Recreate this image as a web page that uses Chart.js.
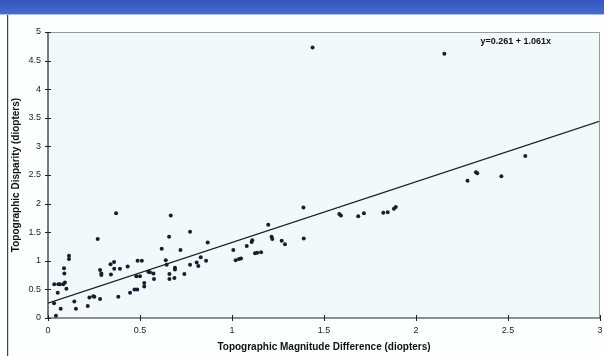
<!DOCTYPE html>
<html>
<head>
<meta charset="utf-8">
<script src="https://cdn.jsdelivr.net/npm/chart.js@4.4.1/dist/chart.umd.min.js"></script>
<style>
html,body{margin:0;padding:0;background:#fff;}
#wrap{width:604px;height:356px;position:relative;}
</style>
</head>
<body>
<div id="wrap"><canvas id="c" width="604" height="356"></canvas></div>
<script>
// Data
const magDiff = [0.043,0.034,0.056,0.033,0.053,0.069,0.065,0.083,0.087,0.089,0.092,0.10,0.114,0.114,0.143,0.152,0.216,0.225,0.246,0.252,0.27,0.283,0.283,0.29,0.29,0.34,0.342,0.359,0.36,0.37,0.382,0.391,0.433,0.446,0.47,0.485,0.487,0.51,0.48,0.50,0.523,0.523,0.545,0.554,0.573,0.576,0.618,0.64,0.645,0.658,0.66,0.66,0.667,0.69,0.69,0.687,0.72,0.741,0.772,0.772,0.808,0.817,0.83,0.859,0.868,1.007,1.02,1.038,1.049,1.08,1.107,1.11,1.125,1.137,1.158,1.197,1.215,1.219,1.27,1.288,1.388,1.39,1.438,1.583,1.592,1.686,1.717,1.822,1.846,1.88,1.89,2.154,2.28,2.326,2.333,2.464,2.594];
const disparity = [0.04,0.59,0.59,0.26,0.44,0.16,0.59,0.59,0.87,0.78,0.62,0.51,1.09,1.03,0.29,0.16,0.21,0.36,0.38,0.37,1.38,0.33,0.84,0.78,0.75,0.94,0.76,0.98,0.86,1.83,0.37,0.86,0.90,0.44,0.50,0.50,1.00,1.00,0.73,0.73,0.61,0.55,0.81,0.80,0.78,0.68,1.21,1.01,0.93,1.42,0.77,0.68,1.79,0.88,0.85,0.70,1.19,0.77,1.51,0.93,0.97,0.91,1.06,1.00,1.32,1.19,1.01,1.03,1.04,1.26,1.33,1.36,1.13,1.14,1.15,1.63,1.42,1.38,1.35,1.29,1.93,1.39,4.73,1.82,1.79,1.78,1.83,1.84,1.85,1.91,1.94,4.62,2.40,2.55,2.53,2.48,2.83];
const fitX = [0, 3];
const fitY = [0.261, 3.444];
const fitLabel = "y=0.261 + 1.061x";
const xTitle = "Topographic Magnitude Difference (diopters)";
const yTitle = "Topographic Disparity (diopters)";
const xTicks = [0,0.5,1,1.5,2,2.5,3];
const yTicks = [0,0.5,1,1.5,2,2.5,3,3.5,4,4.5,5];

const pts = magDiff.map((x,i)=>({x:x,y:disparity[i]}));
const fit = fitX.map((x,i)=>({x:x,y:fitY[i]}));

const FONT = "'Liberation Sans', Arial, sans-serif";

const decor = {
  id:'decor',
  beforeDraw(chart){
    const ctx = chart.ctx, a = chart.chartArea;
    ctx.save();
    ctx.fillStyle = '#fdfefe';
    ctx.fillRect(0,0,chart.width,chart.height);
    const g = ctx.createLinearGradient(0,0,0,15);
    g.addColorStop(0,'#3356c0');
    g.addColorStop(1,'#4a6ccc');
    ctx.fillStyle = g;
    ctx.fillRect(0,0,chart.width,14);
    ctx.fillStyle = '#a9bde6';
    ctx.fillRect(0,14,chart.width,1);
    ctx.fillStyle = '#f1f9fb';
    ctx.fillRect(a.left,a.top,a.right-a.left,a.bottom-a.top);
    ctx.fillStyle = '#444';
    ctx.fillRect(7,15,1.2,chart.height-15);
    ctx.restore();
  },
  afterDatasetsDraw(chart){
    const ctx = chart.ctx, a = chart.chartArea;
    const xs = chart.scales.x, ys = chart.scales.y;
    ctx.save();
    ctx.strokeStyle = '#9a9a9a';
    ctx.lineWidth = 1;
    ctx.beginPath();
    ctx.moveTo(a.left, a.top+0.5); ctx.lineTo(a.right, a.top+0.5);
    ctx.moveTo(a.right-0.5, a.top); ctx.lineTo(a.right-0.5, a.bottom);
    ctx.stroke();
    ctx.strokeStyle = '#222';
    ctx.lineWidth = 1.2;
    ctx.beginPath();
    ctx.moveTo(a.left, a.top); ctx.lineTo(a.left, a.bottom);
    ctx.moveTo(a.left, a.bottom); ctx.lineTo(a.right, a.bottom);
    ctx.stroke();
    ctx.lineWidth = 1;
    ctx.beginPath();
    yTicks.forEach(v=>{const p=Math.round(ys.getPixelForValue(v))+0.5; ctx.moveTo(a.left-3,p); ctx.lineTo(a.left+3,p);});
    xTicks.forEach(v=>{const p=Math.round(xs.getPixelForValue(v))+0.5; ctx.moveTo(p,a.bottom-3); ctx.lineTo(p,a.bottom+3);});
    ctx.stroke();
    ctx.fillStyle = '#111';
    ctx.font = "bold 9px " + FONT;
    ctx.textAlign = 'left';
    ctx.textBaseline = 'middle';
    ctx.fillText(fitLabel, xs.getPixelForValue(2.35), ys.getPixelForValue(4.83));
    ctx.restore();
  }
};

new Chart(document.getElementById('c'), {
  type:'scatter',
  data:{datasets:[
    {label:'data', data:pts, pointStyle:'circle', pointRadius:2, pointBackgroundColor:'#1c1c30', pointBorderColor:'#1c1c30', pointBorderWidth:0, showLine:false, order:1},
    {label:'fit', type:'line', data:fit, borderColor:'#1e1e1e', borderWidth:1.2, pointRadius:0, fill:false, order:2}
  ]},
  options:{
    responsive:false, animation:false, devicePixelRatio:1,
    layout:{padding:{left:8,right:4,top:32,bottom:0}},
    plugins:{legend:{display:false}, tooltip:{enabled:false}},
    scales:{
      x:{type:'linear', min:0, max:3,
        afterBuildTicks(s){ s.ticks = xTicks.map(v=>({value:v})); },
        afterFit(s){ s.height = 38; s.paddingRight = 0; s.paddingLeft = 0; },
        grid:{display:false, drawTicks:false},
        border:{display:false},
        ticks:{color:'#222', font:{family:FONT,size:9}, padding:7, maxRotation:0, callback:v=>String(v)},
        title:{display:true, text:xTitle, color:'#111', font:{family:FONT,size:10,weight:'bold'}, padding:{top:1,bottom:3}}
      },
      y:{type:'linear', min:0, max:5,
        afterBuildTicks(s){ s.ticks = yTicks.map(v=>({value:v})); },
        afterFit(s){ s.width = 40; s.paddingTop = 0; s.paddingBottom = 0; },
        grid:{display:false, drawTicks:false},
        border:{display:false},
        ticks:{color:'#222', font:{family:FONT,size:9}, padding:7, callback:v=>String(v)},
        title:{display:true, text:yTitle, color:'#111', font:{family:FONT,size:10,weight:'bold'}, padding:{top:2,bottom:2}}
      }
    }
  },
  plugins:[decor]
});
</script>
</body>
</html>
